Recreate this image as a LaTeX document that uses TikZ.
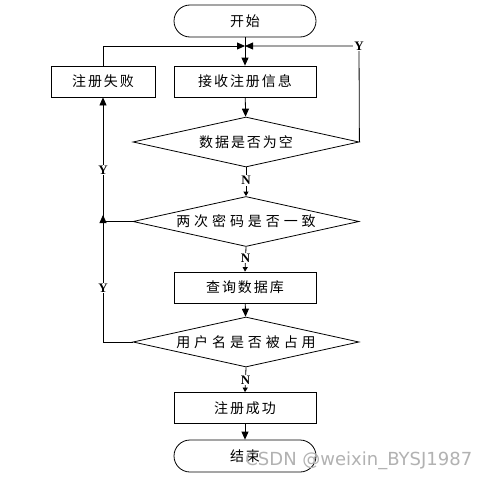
\documentclass[tikz,border=0pt]{standalone}
\usepackage{fontspec}
\newfontfamily\cjk{Noto Sans CJK SC}
\newfontfamily\lab{Liberation Serif}
\newfontfamily\wm{DejaVu Sans}
\usetikzlibrary{shapes.geometric,arrows.meta}
\tikzset{
  every path/.style={line width=0.8pt},
  txt/.style={font=\cjk\fontsize{14}{14}\selectfont\addfontfeatures{LetterSpace=14}},
  wide/.style={font=\cjk\fontsize{14}{14}\selectfont\addfontfeatures{LetterSpace=28}},
  procbox/.style={draw, rectangle, minimum width=142pt, minimum height=31pt, inner sep=0pt, txt},
  termbox/.style={draw, rectangle, rounded corners=16pt, minimum width=142pt, minimum height=32pt, inner sep=0pt, txt},
  decbox/.style={draw, diamond, aspect=4.5, minimum width=226pt, minimum height=50pt, inner sep=0pt},
  yn/.style={font=\lab\bfseries\fontsize{13}{13}\selectfont, fill=white, inner sep=1pt},
  big/.style={-{Triangle[length=8pt,width=7pt]}},
  small/.style={-{Triangle[length=4.5pt,width=5pt]}}
}
\begin{document}
\begin{tikzpicture}[x=1pt,y=-1pt]
\useasboundingbox[fill=white] (0,0) rectangle (486,479);
\node[termbox] (start) at (245,21) {开始};
\node[procbox] (recv) at (245,81.5) {接收注册信息};
\node[procbox, minimum width=104pt] (fail) at (103,81.5) {注册失败};
\node[decbox, txt] (d1) at (246,142) {数据是否为空};
\node[decbox, wide] (d2) at (246,221.5) {两次密码是否一致};
\node[procbox] (query) at (245,287.5) {查询数据库};
\node[decbox, wide] (d3) at (246,342) {用户名是否被占用};
\node[procbox] (succ) at (245,408) {注册成功};
\node[termbox] (end) at (245,456) {结束};
\coordinate (J) at (245,46);
\coordinate (yc) at (359,46);
\coordinate (lc) at (103,342);
\coordinate (k) at (103,215);
% main flow
\draw[big] (start) -- (recv);
\draw[big] (recv) -- (d1);
\draw[small] (d1.south) -- (d2.north) node[yn, pos=0.45] (n1) {N};
\draw[small] (d2.south) -- (query.north) node[yn, pos=0.45] (n2) {N};
\draw[big] (query) -- (d3);
\draw[small] (d3.south) -- (succ.north) node[yn, pos=0.5] (n3) {N};
\draw[big] (succ) -- (end);
% loops
\draw[big] (fail.north) |- (J);
\draw[big] (d1.east) -- (yc) -- (J);
\node[yn] (y1) at (yc) {Y};
\draw[big] (d3.west) -- (lc) -- (fail.south);
\draw[big] (d2.west) -| (k);
\node[yn] (y2) at (103,170) {Y};
\node[yn] (y3) at (103,288) {Y};
\node[font=\wm\fontsize{18}{18}\selectfont, text=black!30, anchor=west, inner sep=0pt] (wmk) at (245,461) {CSDN @weixin\_BYSJ1987};
\end{tikzpicture}
\end{document}
